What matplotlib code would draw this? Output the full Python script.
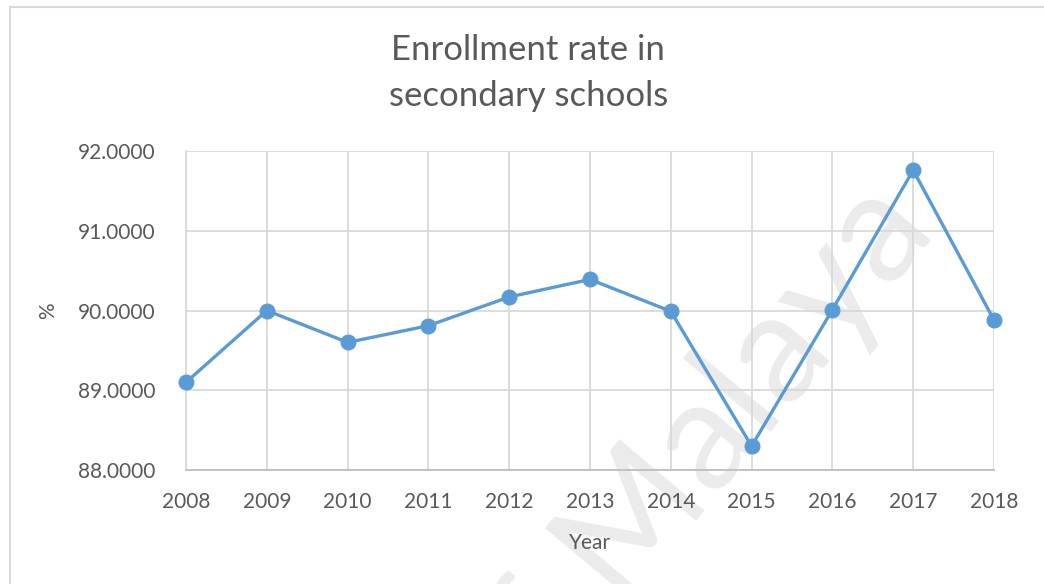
import matplotlib
matplotlib.use("Agg")
import matplotlib.pyplot as plt
from matplotlib.lines import Line2D

years = [2008, 2009, 2010, 2011, 2012, 2013, 2014, 2015, 2016, 2017, 2018]
rate = [89.10, 90.00, 89.60, 89.81, 90.17, 90.39, 89.99, 88.30, 90.01, 91.76, 89.88]
y_ticks = [88, 89, 90, 91, 92]

TEXT = "#595959"
GRID = "#D9D9D9"
BLUE = "#5B9BD5"

plt.rcParams["font.family"] = ["Lato", "DejaVu Sans"]

fig = plt.figure(figsize=(10.44, 5.84), dpi=100)
ax = fig.add_axes([0.1782, 0.1952, 0.7739, 0.5462])
ax.patch.set_alpha(0)

# faint watermark behind everything
fig.text(0.659, 0.207, "of Malaya", rotation=50, fontsize=112, color="#EBEBEB",
         ha="center", va="center", zorder=-5)

ax.plot(years, rate, color=BLUE, lw=2.4, marker="o", ms=10.5, zorder=3,
        clip_on=False)

ax.set_xlim(years[0], years[-1])
ax.set_ylim(y_ticks[0], y_ticks[-1])
ax.set_xticks(years)
ax.set_yticks(y_ticks)
ax.set_yticklabels([f"{v:.4f}" for v in y_ticks])
ax.grid(True, color=GRID, lw=1.3)
for side in ["top", "right"]:
    ax.spines[side].set_visible(False)
ax.spines["left"].set_color(GRID)
ax.spines["left"].set_linewidth(1.3)
ax.spines["bottom"].set_color("#BFBFBF")
ax.spines["bottom"].set_linewidth(1.3)
ax.tick_params(length=0, labelsize=15, labelcolor=TEXT)
ax.tick_params(axis="y", pad=22)
ax.tick_params(axis="x", pad=16)

ax.set_xlabel("Year", fontsize=15, color=TEXT, labelpad=15)
ax.set_ylabel("%", fontsize=15, color=TEXT, labelpad=14)

fig.text(0.506, 0.875, "Enrollment rate in\nsecondary schools", ha="center",
         va="center", fontsize=25, color=TEXT, linespacing=1.55)

# chart area border (top and left edges)
fig.add_artist(Line2D([10 / 1044, 1.0], [1 - 7 / 584, 1 - 7 / 584],
                      transform=fig.transFigure, color="#D9D9D9", lw=1.5))
fig.add_artist(Line2D([10 / 1044, 10 / 1044], [0, 1 - 7 / 584],
                      transform=fig.transFigure, color="#D9D9D9", lw=1.5))

fig.savefig("out.png", dpi=100, facecolor="white")
